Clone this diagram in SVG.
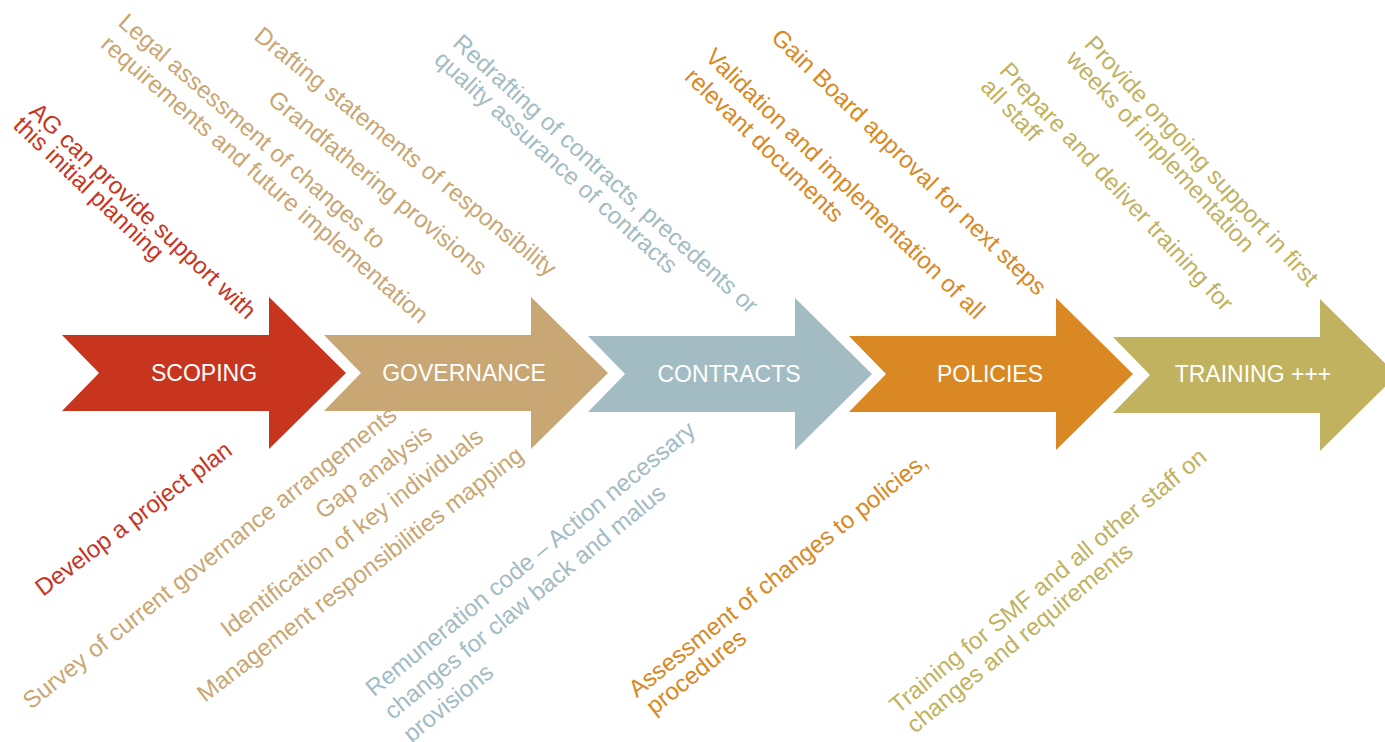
<svg xmlns="http://www.w3.org/2000/svg" xmlns:xlink="http://www.w3.org/1999/xlink" width="1385" height="742" viewBox="0 0 1385 742">
  <defs>
    <polygon id="chev" points="0,-38 207,-38 207,-76 284,0 207,76 207,38 0,38 37,0"/>
  </defs>
  <style>
    text { font-family: "Liberation Sans", Arial, sans-serif; }
    .lbl { font-size: 23px; fill: #ffffff; text-anchor: middle; }
    .note { font-size: 24px; }
    .red { fill: #C8351F; }
    .tan { fill: #C9A774; }
    .blue { fill: #A3BCC4; }
    .orange { fill: #D98823; }
    .olive { fill: #C1B260; }
  </style>
  <rect width="1385" height="742" fill="#ffffff"/>

  <g id="scoping">
    <use xlink:href="#chev" href="#chev" class="red" transform="translate(62,373)"/>
    <text class="lbl" x="204" y="381">SCOPING</text>
    <text class="note red" transform="translate(28,113) rotate(43.5)"><tspan x="0" y="0">AG can provide support with</tspan><tspan x="-2" y="21">this initial planning</tspan></text>
    <text class="note red" transform="translate(43,597) rotate(-37)">Develop a project plan</text>
  </g>

  <g id="governance">
    <use xlink:href="#chev" href="#chev" class="tan" transform="translate(324,373)"/>
    <text class="lbl" x="464" y="381">GOVERNANCE</text>
    <text class="note tan" transform="translate(117,24.5) rotate(41)"><tspan x="0" y="0">Legal assessment of changes to</tspan><tspan x="1" y="28">requirements and future implementation</tspan></text>
    <text class="note tan" transform="translate(266.5,101.8) rotate(39.5)">Grandfathering provisions</text>
    <text class="note tan" transform="translate(252.7,38.3) rotate(39)">Drafting statements of responsibility</text>
    <text class="note tan" transform="translate(31,710) rotate(-38.5)">Survey of current governance arrangements</text>
    <text class="note tan" transform="translate(323,520) rotate(-37)">Gap analysis</text>
    <text class="note tan" transform="translate(228.5,638) rotate(-37.7)">Identification of key individuals</text>
    <text class="note tan" transform="translate(205,703) rotate(-37.4)">Management responsibilities mapping</text>
  </g>

  <g id="contracts">
    <use xlink:href="#chev" href="#chev" class="blue" transform="translate(588,374)"/>
    <text class="lbl" x="729" y="382">CONTRACTS</text>
    <text class="note blue" transform="translate(451.5,45) rotate(42.2)"><tspan x="0" y="0">Redrafting of contracts, precedents or</tspan><tspan x="-2.5" y="24.7">quality assurance of contracts</tspan></text>
    <text class="note blue" transform="translate(374,697.5) rotate(-39.3)"><tspan x="0" y="0">Remuneration code – Action necessary</tspan><tspan x="0" y="29.6">changes for claw back and malus</tspan><tspan x="0" y="59.2">provisions</tspan></text>
  </g>

  <g id="policies">
    <use xlink:href="#chev" href="#chev" class="orange" transform="translate(849,374)"/>
    <text class="lbl" x="990" y="382">POLICIES</text>
    <text class="note orange" transform="translate(704,58.5) rotate(44)"><tspan x="0" y="0">Validation and implementation of all</tspan><tspan x="-1" y="28.6">relevant documents</tspan></text>
    <text class="note orange" transform="translate(770,39) rotate(44)">Gain Board approval for next steps</text>
    <text class="note orange" transform="translate(636.7,698.3) rotate(-38.6)"><tspan x="0" y="0">Assessment of changes to policies,</tspan><tspan x="3" y="24.5">procedures</tspan></text>
  </g>

  <g id="training">
    <use xlink:href="#chev" href="#chev" class="olive" transform="translate(1113,375)"/>
    <text class="lbl" x="1253" y="382">TRAINING +++</text>
    <text class="note olive" transform="translate(998.3,71.7) rotate(47)"><tspan x="0" y="0">Prepare and deliver training for</tspan><tspan x="-1" y="24.7">all staff</tspan></text>
    <text class="note olive" transform="translate(1083.3,45) rotate(47.2)"><tspan x="0" y="0">Provide ongoing support in first</tspan><tspan x="-1.5" y="23.6">weeks of implementation</tspan></text>
    <text class="note olive" transform="translate(898,714.5) rotate(-39.4)"><tspan x="0" y="0">Training for SMF and all other staff on</tspan><tspan x="0.6" y="26">changes and requirements</tspan></text>
  </g>
</svg>
